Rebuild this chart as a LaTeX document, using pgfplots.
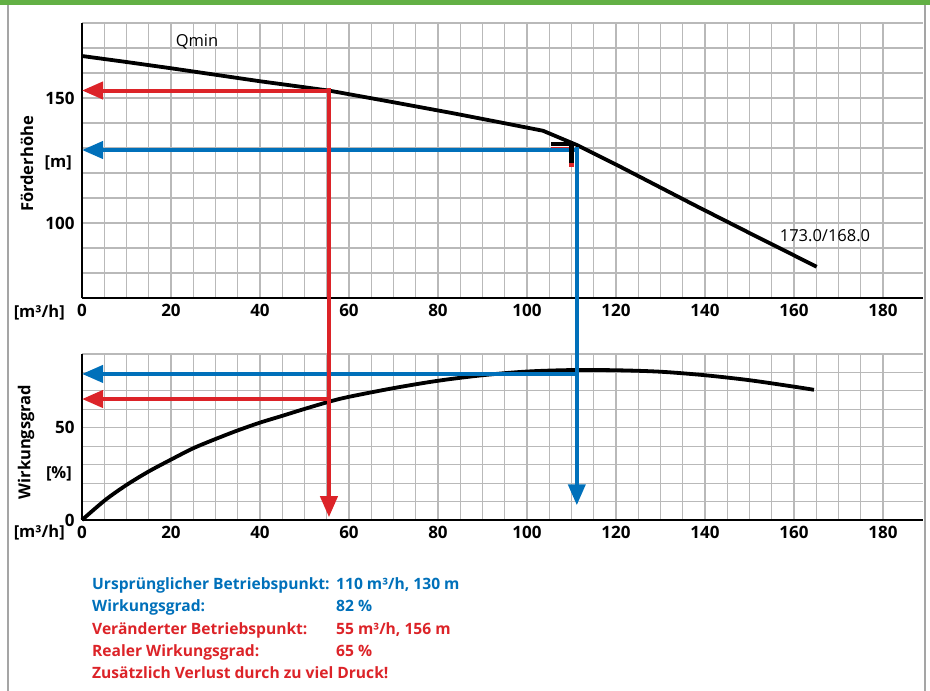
\documentclass[border=0pt]{standalone}
\usepackage{fontspec}
\setmainfont{Open Sans}
\usepackage{pgfplots}
\pgfplotsset{compat=1.18}
\usetikzlibrary{arrows.meta}

\definecolor{cred}{RGB}{220,35,40}
\definecolor{cblue}{RGB}{0,112,186}
\definecolor{cgreen}{RGB}{99,176,69}
\definecolor{cgrid}{RGB}{185,185,185}
\definecolor{cframe}{RGB}{165,165,165}

\pgfplotsset{
  base/.style={
    scale only axis, width=841pt,
    xmin=0, xmax=189,
    axis x line=bottom, axis y line=left,
    axis line style={black, line width=1.4pt, -},
    xtick={0,20,...,180}, minor xtick={5,10,...,175},
    major tick length=0pt, minor tick length=0pt,
    grid=both,
    major grid style={cgrid, line width=1.1pt},
    minor grid style={cgrid, line width=1.1pt},
    tick label style={font=\fontsize{17}{17}\selectfont\bfseries},
    /pgf/number format/assume math mode=true,
    xticklabel style={yshift=-3pt},
    yticklabel style={xshift=-4pt},
    clip=false,
  },
  arr/.style={line width=4pt, -{Triangle[length=21pt,width=17pt]}},
}

\begin{document}
\begin{tikzpicture}
\path[use as bounding box] (0pt,0pt) rectangle (930pt,-691pt);
\fill[cgreen] (0pt,0pt) rectangle (930pt,-5pt);
\draw[cframe, line width=2pt] (8pt,-5pt) -- (8pt,-691pt);
\draw[cframe, line width=2pt] (925pt,-5pt) -- (925pt,-691pt);

% ---------- top: head ----------
\begin{axis}[base, at={(82pt,-298pt)}, anchor=south west, height=275pt,
  ymin=70, ymax=180, ytick={100,150}, minor ytick={70,80,...,180}]
\addplot[black, line width=3.8pt] coordinates {(0,166.8) (10,164.4) (20,161.9) (30,159.3) (40,156.7) (50,154.3) (55.7,152.9) (70,148.3) (83.4,143.9) (95,139.9) (103.6,136.9) (111.2,131.2) (120,123.4) (137.6,107.2) (150,96.0) (165.1,82.5)};
\addplot[cred, arr] coordinates {(55.5,153) (0,153)};
\addplot[cblue, arr] coordinates {(111.2,129.2) (0,129.2)};
% marker near operating point
\addplot[cred, line width=1.5pt] coordinates {(105.4,130.3) (109.8,130.3)};
\addplot[black, line width=4pt] coordinates {(105.4,131.8) (110.8,131.8)};
\addplot[cred, line width=5pt] coordinates {(110.0,124.6) (110.0,122.6)};
\addplot[black, line width=4.5pt] coordinates {(110.0,131.0) (110.0,124.2)};
\end{axis}

% ---------- bottom: efficiency ----------
\begin{axis}[base, at={(82pt,-520pt)}, anchor=south west, height=166pt,
  ymin=0, ymax=90, ytick={0,50}, minor ytick={10,20,...,90}]
\addplot[black, line width=3.8pt, smooth] coordinates {(0,0) (5.2,10.8) (10,19) (14.9,26.2) (19.8,32.5) (25,38.9) (29.9,43.8) (34.8,48.4) (40,52.8) (44.9,56.4) (49.7,60) (55.6,64.2) (60,66.8) (70,71.5) (80,75.5) (90,78.5) (100,80.5) (110,81.3) (120,81.2) (130,80.4) (140,78.5) (150,75.8) (160,72.3) (164.5,70.6)};
\addplot[cred, arr] coordinates {(55.5,65.6) (0,65.6)};
\addplot[cblue, arr] coordinates {(111.2,79.2) (0,79.2)};
\addplot[cred, arr] coordinates {(55.5,234) (55.5,1.5)};
\addplot[cblue, arr] coordinates {(111.2,202) (111.2,8)};
\end{axis}

% ---------- texts ----------
\node[font=\fontsize{16.5}{18}\selectfont] at (197pt,-42pt) {Qmin};
\node[font=\fontsize{16.5}{18}\selectfont] at (825pt,-236pt) {173.0/168.0};
\begin{scope}[font=\fontsize{16.5}{18}\selectfont\bfseries]
\node[rotate=90] at (27pt,-164pt) {Förderhöhe};
\node[anchor=east, inner sep=0] at (72pt,-163pt) {[m]};
\node[anchor=east, inner sep=0] at (65pt,-313pt) {[m³/h]};
\node[rotate=90] at (26pt,-442pt) {Wirkungsgrad};
\node[anchor=east, inner sep=0] at (72pt,-474pt) {[\%]};
\node[anchor=east, inner sep=0] at (65pt,-533pt) {[m³/h]};
\end{scope}
\begin{scope}[font=\fontsize{15.6}{18}\selectfont\bfseries]
\node[anchor=base west, inner sep=0, text=cblue] at (92pt,-589.5pt) {Ursprünglicher Betriebspunkt:};
\node[anchor=base west, inner sep=0, text=cblue] at (336pt,-589.5pt) {110 m³/h, 130 m};
\node[anchor=base west, inner sep=0, text=cblue] at (92pt,-611.8pt) {Wirkungsgrad:};
\node[anchor=base west, inner sep=0, text=cblue] at (336pt,-611.8pt) {82 \%};
\node[anchor=base west, inner sep=0, text=cred] at (92pt,-634.1pt) {Veränderter Betriebspunkt:};
\node[anchor=base west, inner sep=0, text=cred] at (336pt,-634.1pt) {55 m³/h, 156 m};
\node[anchor=base west, inner sep=0, text=cred] at (92pt,-656.4pt) {Realer Wirkungsgrad:};
\node[anchor=base west, inner sep=0, text=cred] at (336pt,-656.4pt) {65 \%};
\node[anchor=base west, inner sep=0, text=cred] at (92pt,-678.7pt) {Zusätzlich Verlust durch zu viel Druck!};
\end{scope}
\end{tikzpicture}
\end{document}
